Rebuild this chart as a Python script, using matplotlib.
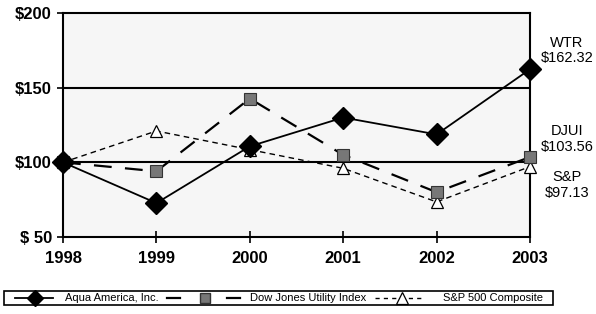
import matplotlib
matplotlib.use("Agg")
import matplotlib.pyplot as plt
from matplotlib.lines import Line2D
from matplotlib.patches import Rectangle

years = [1998, 1999, 2000, 2001, 2002, 2003]
wtr = [100, 72.7, 110.7, 130, 118.7, 162.32]
djui = [100, 94, 142.7, 105, 80, 103.56]
sp = [100, 121, 108.5, 96, 73.5, 97.13]
ytick_vals = [50, 100, 150, 200]
ytick_labels = ["$ 50", "$100", "$150", "$200"]
end_labels = ["WTR\n$162.32", "DJUI\n$103.56", "S&P\n$97.13"]
legend_labels = ["Aqua America, Inc.", "Dow Jones Utility Index", "S&P 500 Composite"]

plt.rcParams['font.family'] = ['Liberation Sans', 'DejaVu Sans']

W, H = 596, 314
fig = plt.figure(figsize=(W/100, H/100), dpi=100)
ax = fig.add_axes([63/W, 1-237/H, (530-63)/W, (237-13)/H])
ax.set_facecolor('#f6f6f6')

ax.axhline(150, color='black', lw=1.5, zorder=1)
ax.axhline(100, color='black', lw=1.5, zorder=1)

ax.plot(years, sp, color='black', lw=1.0, ls=(0, (4, 3)), marker='^', ms=9,
        mfc='white', mec='black', mew=0.9, zorder=3, clip_on=False)
ax.plot(years, djui, color='black', lw=1.6, ls=(0, (8, 6)), marker='s', ms=8,
        mfc='#777777', mec='#333333', mew=0.8, zorder=4, clip_on=False)
ax.plot(years, wtr, color='black', lw=1.3, ls='-', marker='D', ms=11,
        mfc='black', mec='black', zorder=5, clip_on=False)

ax.set_xlim(1998, 2003)
ax.set_ylim(50, 200)
ax.set_xticks(years)
ax.set_xticklabels([str(y) for y in years], fontsize=12, fontweight='bold')
ax.set_yticks(ytick_vals)
ax.set_yticklabels(ytick_labels, fontsize=12, fontweight='bold')
ax.tick_params(axis='x', direction='inout', length=8, width=1.2, pad=6)
ax.tick_params(axis='y', direction='out', length=4, width=1.2, pad=4)
for s in ax.spines.values():
    s.set_linewidth(1.5)

for lab, yv in zip(end_labels, [175, 115.5, 85]):
    ax.text(1.0 + 37/467, yv, lab, transform=ax.get_yaxis_transform(),
            ha='center', va='center', fontsize=10.5, linespacing=1.15, clip_on=False)

# manual legend (pixel layout -> figure fraction)
def fx(px):
    return px / W
def fy(py):
    return 1 - py / H

ly = 298
fig.add_artist(Rectangle((fx(4), fy(305)), fx(553) - fx(4), fy(291) - fy(305),
                         transform=fig.transFigure, fill=False, ec='black', lw=1.2))
# handle 1
fig.add_artist(Line2D([fx(15), fx(53)], [fy(ly), fy(ly)], color='black', lw=1.3))
fig.add_artist(Line2D([fx(35)], [fy(ly)], marker='D', ms=8, mfc='black', mec='black', ls='none'))
fig.text(fx(65), fy(ly), legend_labels[0], fontsize=8, ha='left', va='center')
# handle 2
fig.add_artist(Line2D([fx(167), fx(180)], [fy(ly), fy(ly)], color='black', lw=1.6))
fig.add_artist(Line2D([fx(227), fx(240)], [fy(ly), fy(ly)], color='black', lw=1.6))
fig.add_artist(Line2D([fx(205)], [fy(ly)], marker='s', ms=7, mfc='#777777', mec='#333333', ls='none'))
fig.text(fx(250), fy(ly), legend_labels[1], fontsize=8, ha='left', va='center')
# handle 3
fig.add_artist(Line2D([fx(375), fx(425)], [fy(ly), fy(ly)], color='black', lw=1.0, ls=(0, (3, 3))))
fig.add_artist(Line2D([fx(402)], [fy(ly)], marker='^', ms=8, mfc='white', mec='black', mew=0.9, ls='none'))
fig.text(fx(443), fy(ly), legend_labels[2], fontsize=8, ha='left', va='center')

fig.savefig('out.png', dpi=100, facecolor='white')
